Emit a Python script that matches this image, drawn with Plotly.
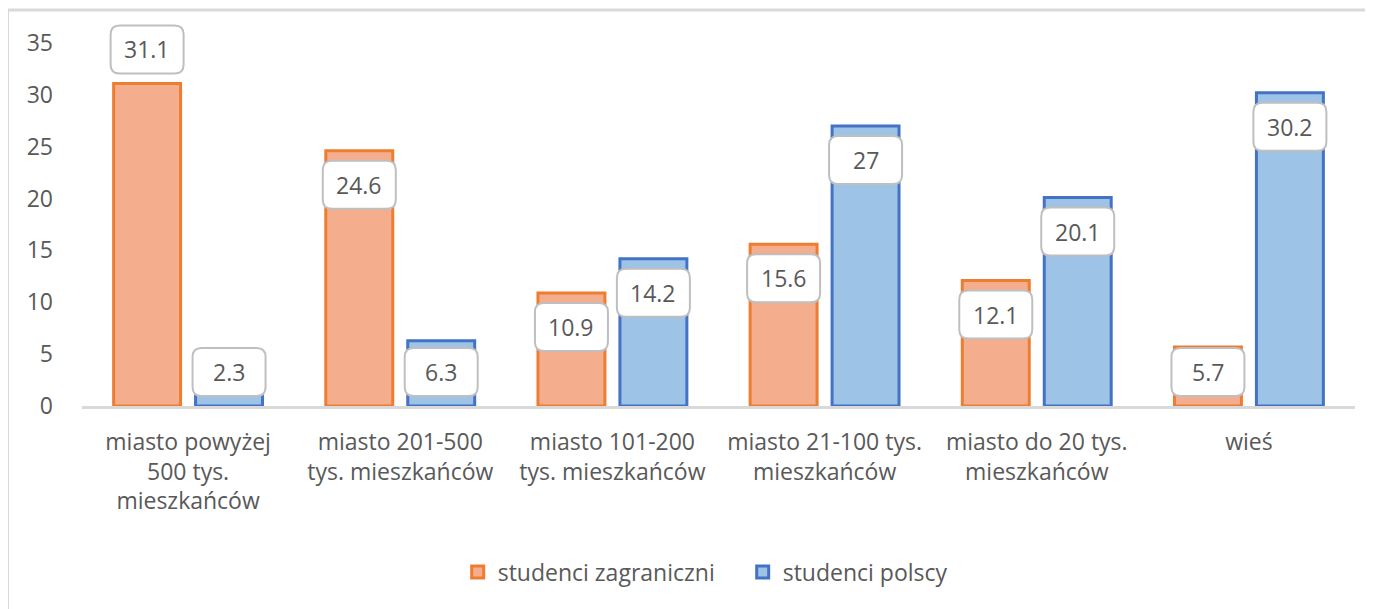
import plotly.graph_objects as go

categories = [
    "miasto powyżej<br>500 tys.<br>mieszkańców",
    "miasto 201-500<br>tys. mieszkańców",
    "miasto 101-200<br>tys. mieszkańców",
    "miasto 21-100 tys.<br>mieszkańców",
    "miasto do 20 tys.<br>mieszkańców",
    "wieś",
]
series_names = ["studenci zagraniczni", "studenci polscy"]
zagraniczni = [31.1, 24.6, 10.9, 15.6, 12.1, 5.7]
polscy = [2.3, 6.3, 14.2, 27, 20.1, 30.2]
label_text_z = ["31.1", "24.6", "10.9", "15.6", "12.1", "5.7"]
label_text_p = ["2.3", "6.3", "14.2", "27", "20.1", "30.2"]
# placement of the value boxes: "above" the bar top, else inside the top end
placement_z = ["above", "inside", "inside", "inside", "inside", "inside"]
placement_p = ["inside"] * 6
y_ticks = [0, 5, 10, 15, 20, 25, 30, 35]

W, H = 1373, 609
PAGE_OFF = 8  # default body margin of the html page
M_L, M_R, M_T, M_B = 81.5 - PAGE_OFF, 26, 43 - PAGE_OFF, 211
Y_MAX = 35
BARGAP = 0.2275
GROUPGAP = 0.183

TEXT = "#595959"
FONT = "Open Sans"
FS = 23

fig = go.Figure()
fig.add_trace(go.Bar(
    name=series_names[0], x=list(range(6)), y=zagraniczni,
    marker=dict(color="#F4AE8E", line=dict(color="#ED7D31", width=3)),
))
fig.add_trace(go.Bar(
    name=series_names[1], x=list(range(6)), y=polscy,
    marker=dict(color="#9DC3E6", line=dict(color="#4472C4", width=3)),
))

plot_h = H - M_T - M_B
plot_w = W - M_L - M_R
ppu = plot_h / Y_MAX
OFF = 34  # px from bar top to the box centre
BW, BH, R = 73, 48, 9

shapes = []
annotations = []
slot_off = (1 - BARGAP) / 4
for vals, texts, places, sign in [(zagraniczni, label_text_z, placement_z, -1),
                                  (polscy, label_text_p, placement_p, 1)]:
    for i, (v, t, p) in enumerate(zip(vals, texts, places)):
        xa = i + sign * slot_off
        if p == "above":
            ya, dy = v, OFF
        elif v * ppu - OFF < OFF:
            ya, dy = 0, OFF
        else:
            ya, dy = v, -OFF
        x0, x1, y0, y1, r = -BW / 2, BW / 2, dy - BH / 2, dy + BH / 2, R
        path = (f"M {x0 + r},{y0} L {x1 - r},{y0} Q {x1},{y0} {x1},{y0 + r} "
                f"L {x1},{y1 - r} Q {x1},{y1} {x1 - r},{y1} L {x0 + r},{y1} "
                f"Q {x0},{y1} {x0},{y1 - r} L {x0},{y0 + r} Q {x0},{y0} {x0 + r},{y0} Z")
        shapes.append(dict(
            type="path", xref="x", yref="paper", xsizemode="pixel", ysizemode="pixel",
            xanchor=xa, yanchor=ya / Y_MAX, path=path,
            fillcolor="white", line=dict(color="#BFBFBF", width=2), layer="above",
        ))
        annotations.append(dict(
            x=xa, y=ya, xref="x", yref="y", yshift=dy, text=t, showarrow=False,
            font=dict(family=FONT, size=FS, color=TEXT),
        ))

# chart frame (left and top edges visible)
fx0 = (7 - 81.5) / plot_w
fy1 = 1 + (43 - 10) / plot_h
fy0 = -(M_B + 20) / plot_h
fx1 = 1 + (M_R + 20) / plot_w
shapes.append(dict(type="line", xref="paper", yref="paper", x0=fx0, x1=fx0, y0=fy0, y1=fy1,
                   line=dict(color="#D9D9D9", width=3), layer="below"))
shapes.append(dict(type="line", xref="paper", yref="paper", x0=fx0, x1=fx1, y0=fy1, y1=fy1,
                   line=dict(color="#D9D9D9", width=3), layer="below"))

fig.update_layout(
    width=W, height=H,
    margin=dict(l=M_L, r=M_R, t=M_T, b=M_B, autoexpand=False),
    paper_bgcolor="white", plot_bgcolor="white",
    barmode="group", bargap=BARGAP, bargroupgap=GROUPGAP,
    font=dict(family=FONT, size=FS, color=TEXT),
    showlegend=True,
    legend=dict(orientation="h", x=0.519, xanchor="center", y=-(572 - 406) / plot_h,
                yanchor="middle", font=dict(family=FONT, size=FS, color=TEXT),
                itemwidth=30, traceorder="normal",
                entrywidth=240, entrywidthmode="pixels"),
    shapes=shapes, annotations=annotations,
    xaxis=dict(tickmode="array", tickvals=list(range(6)), ticktext=categories,
               range=[-0.5, 5.5], showgrid=False, zeroline=False,
               showline=True, linecolor="#D9D9D9", linewidth=3,
               ticks="", ticklabelstandoff=13,
               tickfont=dict(family=FONT, size=FS, color=TEXT)),
    yaxis=dict(range=[0, Y_MAX], tickvals=y_ticks, showgrid=False, zeroline=False,
               showline=False, ticks="", ticklabelstandoff=28,
               tickfont=dict(family=FONT, size=FS, color=TEXT)),
)

fig.write_html("out.html")
